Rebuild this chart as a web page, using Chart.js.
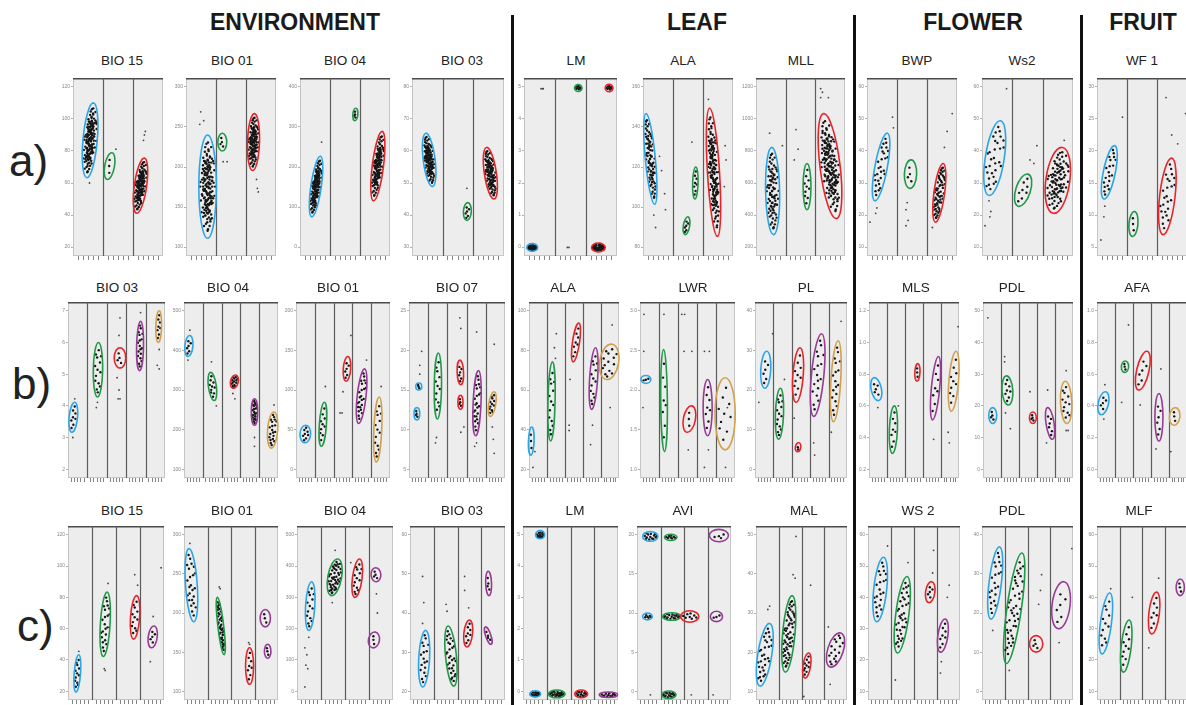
<!DOCTYPE html>
<html>
<head>
<meta charset="utf-8">
<script src="https://cdn.jsdelivr.net/npm/chart.js@4.4.1/dist/chart.umd.min.js"></script>
<style>
body { margin: 0; background: #fff; width: 1186px; height: 705px; overflow: hidden; position: relative; font-family: 'Liberation Sans', Arial, sans-serif; }
.grp { position: absolute; top: 11px; font-weight: bold; font-size: 23px; line-height: 1; color: #1a1a1a; transform: translateX(-50%); white-space: nowrap; }
.ttl { position: absolute; font-size: 13.5px; line-height: 1; color: #222; transform: translateX(-50%); white-space: nowrap; }
.row { position: absolute; font-size: 44px; line-height: 1; color: #222; }
.sep { position: absolute; top: 15px; bottom: 0; width: 2.5px; background: #111; }
canvas { position: absolute; }
</style>
</head>
<body>
<script>
const groupHeaders = ['ENVIRONMENT', 'LEAF', 'FLOWER', 'FRUIT'];
const rowLabels = ['a)', 'b)', 'c)'];
const titlesA = ['BIO 15', 'BIO 01', 'BIO 04', 'BIO 03', 'LM', 'ALA', 'MLL', 'BWP', 'Ws2', 'WF 1'];
const titlesB = ['BIO 03', 'BIO 04', 'BIO 01', 'BIO 07', 'ALA', 'LWR', 'PL', 'MLS', 'PDL', 'AFA'];
const titlesC = ['BIO 15', 'BIO 01', 'BIO 04', 'BIO 03', 'LM', 'AVI', 'MAL', 'WS 2', 'PDL', 'MLF'];
const groupsPerRow = [3, 5, 4];
const colours = ['#2aa6e8', '#1f9a48', '#e8242b', '#983b95', '#d3a04c'];

// y tick labels of every panel
const ticksA = [['20','40','60','80','100','120'], ['100','150','200','250','300'], ['0','100','200','300','400'], ['30','40','50','60','70','80'], ['0','1','2','3','4','5'],
  ['80','100','120','140','160'], ['200','400','600','800','1000','1200'], ['10','20','30','40','50','60'], ['10','20','30','40','50','60'], ['5','10','15','20','25','30']];
const ticksB = [['2','3','4','5','6','7'], ['100','200','300','400','500'], ['0','50','100','150','200'], ['5','10','15','20','25'], ['20','40','60','80','100'],
  ['1.0','1.5','2.0','2.5','3.0'], ['0','10','20','30','40'], ['0.2','0.4','0.6','0.8','1.0','1.2'], ['0','10','20','30','40','50'], ['0.0','0.2','0.4','0.6','0.8','1.0']];
const ticksC = [['20','40','60','80','100','120'], ['100','150','200','250','300'], ['0','100','200','300','400','500'], ['20','30','40','50','60'], ['0','1','2','3','4','5'],
  ['0','5','10','15','20'], ['10','20','30','40','50'], ['10','20','30','40','50','60'], ['0','10','20','30','40'], ['10','20','30','40','50','60']];

// ellipses: [group, xEnd1, yEnd1, xEnd2, yEnd2, minor/major ratio, dots]  (x in group units, y in % of range)
const aBio15 = [[0,0.68,86,0.46,44,0.19,140],[1,1.30,58,1.14,43,0.36,3],[2,2.38,55,2.12,24,0.22,120]];
const aBio01 = [[0,0.72,68,0.72,10,0.17,150],[1,1.21,69,1.21,59,0.5,4],[2,2.28,80,2.22,48,0.21,110]];
const aBio04 = [[0,0.68,56,0.39,22,0.17,130],[1,1.86,83,1.83,76,0.4,4],[2,2.74,70,2.45,31,0.16,120]];
const aBio03 = [[0,0.45,69,0.67,39,0.22,120],[1,1.82,30,1.79,20,0.44,6],[2,2.43,61,2.68,32,0.23,100]];
const aLm = [[0,0.09,4.8,0.44,4.8,0.7,30],[1,1.63,94.4,1.87,94.4,0.95,8],[2,2.62,94.4,2.87,94.4,0.95,8],[2,2.18,4.8,2.62,4.8,0.65,34]];
const aAla = [[0,0.10,80,0.39,29,0.11,80],[1,1.76,50,1.73,32,0.17,8],[1,1.50,22,1.40,12,0.35,6],[2,2.22,83,2.48,11,0.094,140]];
const aMll = [[0,0.53,61,0.59,12,0.16,80],[1,1.72,52,1.72,26,0.17,10],[2,2.28,80,2.71,21,0.19,160]];
const aBwp = [[0,0.68,69,0.26,31,0.18,28],[1,1.47,54,1.43,38,0.43,4],[2,2.54,52,2.28,19,0.18,60]];
const aWs2 = [[0,0.61,76,0.23,34,0.25,30],[1,1.52,46,1.19,28,0.44,8],[2,2.65,61,2.35,24,0.36,90]];
const aWf1 = [[0,0.59,62,0.23,32,0.22,20],[1,1.25,25,1.18,11,0.36,3],[2,2.49,55,2.20,12,0.2,25]];

const bBio03 = [[0,0.35,43,0.20,26,0.28,8],[1,1.57,77,1.52,46,0.17,14],[2,2.68,74,2.68,62.5,0.57,4],[3,3.74,89,3.69,61,0.14,18],[4,4.70,95,4.65,77,0.18,8]];
const bBio04 = [[0,0.31,81,0.21,69,0.38,6],[1,1.41,60,1.61,44,0.28,10],[2,2.76,58.5,2.60,51,0.57,14],[3,3.75,45,3.75,30,0.24,22],[4,4.79,37.5,4.64,17,0.28,20]];
const bBio01 = [[0,0.52,30,0.47,20,0.6,8],[1,1.51,43,1.35,18,0.16,10],[2,2.76,69,2.66,55,0.3,6],[3,3.65,62,3.33,31,0.16,24],[4,4.43,46,4.27,9,0.12,14]];
const bBio07 = [[0,0.51,54,0.51,50,0.85,3],[0,0.41,40,0.41,33,0.46,4],[1,1.53,71,1.48,33.5,0.11,12],[2,2.65,67,2.70,53,0.26,6],[2,2.68,47,2.68,39,0.36,4],[3,3.62,61,3.47,24,0.12,24],[4,4.44,49,4.23,35,0.28,12]];
const bAla = [[0,0.15,29,0.10,13,0.2,3],[1,1.30,66,1.20,21,0.09,14],[2,2.77,88,2.45,66,0.18,8],[3,3.70,74,3.48,39,0.13,14],[4,4.62,76,4.29,56,0.53,14]];
const bLwr = [[0,0.05,56,0.57,56,0.8,3],[1,1.24,73,1.29,15,0.065,8],[2,2.73,41,2.47,26,0.45,3],[3,3.56,56,3.56,24,0.16,8],[4,4.48,57,4.48,16,0.28,10]];
const bPl = [[0,0.64,72,0.53,51,0.27,6],[1,1.38,51,1.28,22,0.16,14],[2,2.45,74,2.23,43,0.19,10],[2,2.39,20,2.29,15,0.6,2],[3,3.62,82,3.19,35,0.15,18],[4,4.52,78,4.26,32,0.12,18]];
const bMls = [[0,0.27,57,0.54,44,0.44,5],[1,1.41,41,1.30,14,0.17,8],[2,2.72,65,2.66,55,0.29,3],[3,3.86,69,3.53,33,0.13,8],[4,4.84,72,4.57,38,0.16,10]];
const bPdl = [[0,0.54,40,0.54,31,0.5,4],[1,1.30,58,1.41,41.5,0.37,8],[2,2.77,37.5,2.77,31,0.6,4],[3,3.59,40,3.86,22,0.25,6],[4,4.57,55,4.67,31,0.27,12]];
const bAfa = [[0,0.49,49,0.22,36,0.44,5],[1,1.58,66.5,1.53,60,0.63,3],[2,2.79,72,2.30,50,0.31,6],[3,3.44,48,3.44,21,0.17,6],[4,4.37,40,4.26,30,0.59,3]];

const cBio15 = [[0,0.45,26,0.33,4.6,0.17,12],[1,1.63,62,1.47,25,0.15,22],[2,2.86,60,2.73,35,0.21,12],[3,3.59,42.5,3.47,30,0.41,5]];
const cBio01 = [[0,0.21,87,0.42,45,0.16,24],[1,1.42,59,1.71,26,0.1,40],[2,2.79,30,2.79,9,0.22,8],[3,3.46,52,3.46,42,0.59,3],[3,3.56,32,3.56,24,0.47,3]];
const cBio04 = [[0,0.61,68,0.49,40,0.19,14],[1,1.71,81,1.43,60,0.37,45],[2,2.61,81,2.41,59,0.25,14],[3,3.27,76,3.31,68,0.7,4],[3,3.27,39,3.14,30,0.69,3]];
const cBio03 = [[0,0.66,40,0.53,7.5,0.19,18],[1,1.60,42.5,1.85,8,0.18,30],[2,2.51,46,2.39,30.5,0.32,8],[3,3.29,74,3.33,60,0.24,4],[3,3.17,42,3.42,32,0.28,4]];
const cLm = [[0,0.53,95,0.91,95,0.9,12],[0,0.29,3.5,0.74,3.5,0.6,16],[1,1.07,3.5,1.77,3.5,0.47,24],[2,2.18,3.5,2.72,3.5,0.6,14],[3,3.21,3,3.98,3,0.3,12]];
const cAvi = [[0,0.24,94,0.89,94,0.63,14],[1,1.17,93.5,1.70,93.5,0.5,8],[3,3.08,94.5,3.89,94.5,0.65,4],[0,0.24,48,0.65,48,0.7,6],[1,1.09,48,1.86,48,0.42,16],[2,1.86,48,2.63,48,0.63,8],[3,3.12,48,3.64,48,0.85,3],[1,1.05,3,1.66,3,0.53,16]];
const cMal = [[0,0.60,44,0.17,8,0.22,30],[1,1.59,60,1.29,16,0.16,60],[2,2.32,27,2.15,12.6,0.3,10],[3,3.73,38.5,3.26,19,0.44,16]];
const cWs2 = [[0,0.68,82,0.38,45,0.2,22],[1,1.70,71,1.28,27,0.17,36],[2,2.77,68,2.64,56,0.44,5],[3,3.36,46.5,3.15,27.5,0.3,8]];
const cPdl = [[0,0.77,88,0.39,46.5,0.17,22],[1,1.76,84.5,1.07,21,0.13,44],[2,2.38,37,2.38,27.5,0.8,4],[3,3.60,68,3.35,41,0.38,6]];
const cMlf = [[0,0.57,61.5,0.22,26.5,0.18,12],[1,1.43,46,1.17,16,0.19,10],[2,2.65,62,2.43,38,0.25,8],[3,3.70,69.5,3.70,60,0.5,3]];

// single points lying outside the ellipses
const aBio15Out = [[0.55,41],[2.35,65],[2.38,68],[2.41,70],[1.43,60]];
const aBio01Out = [[0.49,81],[0.59,76],[0.46,74],[1.24,53],[1.37,53],[2.35,43],[2.38,38],[2.41,36]];
const aBio04Out = [[0.72,64]];
const aBio03Out = [[1.79,38]];
const aLmOut = [[0.55,94],[0.6,94],[0.62,94],[1.4,4.8],[1.45,4.8]];
const aAlaOut = [[0.55,56],[0.62,48],[0.72,35],[0.75,26],[0.36,23],[0.42,16],[1.63,64],[2.18,88],[2.74,62],[2.77,54],[2.71,39]];
const aMllOut = [[0.46,69],[0.89,62],[1.35,71],[1.29,54],[1.42,60],[2.18,94],[2.24,92],[2.18,89],[2.44,89]];
const aBwpOut = [[0.85,78],[0.88,72],[0.29,24],[0.1,19],[0.33,27],[1.34,30],[1.30,26],[1.37,20],[1.30,17],[2.84,80],[2.67,70],[2.58,61],[2.18,16]];
const aWs2Out = [[0.81,94],[0.23,31],[0.29,25],[0.10,17],[0.26,22],[1.81,62],[1.58,54],[1.71,52],[2.71,65]];
const aWf1Out = [[0.85,78],[0.26,28],[0.23,22],[0.13,9],[2.30,89],[2.49,68],[2.69,63],[2.95,80]];
const bBio03Out = [[0.35,45],[0.25,23],[1.46,40],[1.52,43],[2.68,91],[2.63,81],[2.53,57],[2.63,50],[2.58,45],[2.68,45],[3.74,94],[4.70,73],[4.60,64],[4.70,62]];
const bBio04Out = [[0.31,84],[0.21,67],[1.46,66],[1.72,41],[2.60,48],[2.71,45],[3.75,23],[3.75,18],[4.79,41.5]];
const bBio01Out = [[1.56,52],[2.92,81],[2.5,49],[2.34,37],[2.45,37],[3.75,67],[4.53,52]];
const bBio07Out = [[0.66,72],[0.56,64],[0.56,59],[1.43,23],[1.38,20],[2.65,91],[2.70,85],[2.86,29],[2.70,26],[3.52,83],[3.42,18],[3.52,20],[4.44,76],[4.34,29],[4.39,22],[4.44,14]];
const bAlaOut = [[0.22,6],[0.33,15],[1.47,68],[1.41,74],[1.52,82],[2.28,56],[2.23,30],[2.23,27],[3.53,30],[3.42,19],[4.62,87],[4.51,40]];
const bLwrOut = [[0.21,93],[1.26,93],[2.20,93],[2.35,93],[0.2,72],[2.32,72],[2.73,72],[3.39,72],[3.65,72],[0.16,40],[4.6,40],[3.39,6],[4.5,6],[2.54,16],[3.6,16]];
const bPlOut = [[0.96,82],[0.21,43],[1.60,56],[2.13,34],[3.24,13],[3.19,20],[4.68,89],[4.15,26]];
const bMlsOut = [[0.49,40],[1.63,41],[3.59,22],[4.95,86],[4.40,26],[4.46,20]];
const bPdlOut = [[0.27,91],[1.20,69],[1.20,66],[1.25,37],[1.52,28],[2.61,49],[3.59,50],[3.53,20],[4.62,61],[4.62,27],[4.73,27]];
const bAfaOut = [[0.44,53],[0.38,33.5],[1.75,87],[1.37,43],[2.40,41.5],[3.55,62],[3.28,16.5],[4.10,15]];
const cBio15Out = [[0.45,28],[1.67,67],[1.55,17],[1.51,18],[2.78,72],[2.9,66],[3.55,48],[3.88,76],[3.43,22]];
const cBio01Out = [[0.25,90],[1.5,65],[1.54,64],[2.79,32],[2.75,33]];
const cBio04Out = [[0.49,36],[0.33,30],[0.41,26],[0.37,20],[0.45,18],[0.33,7.5],[1.47,56],[1.59,86],[2.24,79],[3.31,61],[3.35,50]];
const cBio03Out = [[0.53,71],[0.58,56],[0.53,44],[1.52,55],[1.56,51],[2.30,71],[2.30,63],[2.47,53]];
const cLmOut = [];
const cAviOut = [[0.57,3],[2.31,3],[3.24,3]];
const cMalOut = [[0.52,52],[0.60,54],[1.72,70],[1.63,72],[1.76,94],[2.40,66],[2.1,2],[3.18,42],[3.26,9]];
const cWs2Out = [[0.85,88.5],[1.74,79],[1.19,11.5],[2.85,86],[2.81,73],[3.53,66],[3.45,59],[3.19,22],[3.15,15.5]];
const cPdlOut = [[0.47,40],[1.2,17],[2.62,72],[2.57,63],[2.49,55],[3.95,87],[3.39,33]];
const cMlfOut = [[0.61,64],[1.57,59],[2.74,70],[2.3,30]];

// spread of the individual plants inside an ellipse (u along major axis, v along minor)
const dotTemplate = [[0.00,0.10],[0.55,-0.20],[-0.50,0.25],[0.25,0.45],[-0.30,-0.45],[0.80,0.20],[-0.80,-0.10],[0.10,-0.60],[-0.15,0.70],[0.45,0.60],
  [-0.62,0.55],[0.68,-0.55],[-0.55,-0.70],[0.92,-0.05],[-0.92,0.15],[0.35,-0.30],[-0.25,0.15],[0.15,-0.15],[0.62,0.30],[-0.65,-0.30],
  [0.30,0.85],[-0.35,-0.85],[0.05,0.40],[0.45,0.05],[-0.45,-0.05],[0.75,-0.35],[-0.75,0.35],[0.20,-0.85],[-0.10,0.90],[0.85,0.45],
  [-0.85,-0.45],[0.35,-0.65],[-0.38,0.60],[0.10,0.20],[-0.05,-0.25],[0.70,0.05],[-0.70,0.10],[0.50,0.40],[-0.20,-0.60],[0.25,-0.40],
  [-0.55,0.45],[0.60,-0.45],[0.00,-0.95],[0.00,0.95],[0.95,0.00],[-0.95,-0.05],[0.40,0.20],[-0.40,-0.25],[0.20,0.65],[-0.15,0.40],
  [0.85,-0.25],[-0.85,0.30],[0.55,0.75],[-0.50,-0.80],[0.30,0.05],[-0.30,0.00],[0.65,0.55],[-0.60,-0.55],[0.12,-0.35],[-0.08,0.55]];
// how the template is reused on later passes: [scale, flip u, flip v]
const templatePasses = [[0.9, 1, 1], [0.55, -1, 1], [0.75, 1, -1], [0.35, -1, -1]];

const ellA = [aBio15, aBio01, aBio04, aBio03, aLm, aAla, aMll, aBwp, aWs2, aWf1];
const ellB = [bBio03, bBio04, bBio01, bBio07, bAla, bLwr, bPl, bMls, bPdl, bAfa];
const ellC = [cBio15, cBio01, cBio04, cBio03, cLm, cAvi, cMal, cWs2, cPdl, cMlf];
const outA = [aBio15Out, aBio01Out, aBio04Out, aBio03Out, aLmOut, aAlaOut, aMllOut, aBwpOut, aWs2Out, aWf1Out];
const outB = [bBio03Out, bBio04Out, bBio01Out, bBio07Out, bAlaOut, bLwrOut, bPlOut, bMlsOut, bPdlOut, bAfaOut];
const outC = [cBio15Out, cBio01Out, cBio04Out, cBio03Out, cLmOut, cAviOut, cMalOut, cWs2Out, cPdlOut, cMlfOut];

// page layout
const rowTop = [78, 302, 526];
const rowBottom = [256, 478, 700];
const boxesA = [[73,165],[186,278],[300,392],[412,506],[524,619],[643,735],[756,847],[867,959],[982,1075],[1097,1189]];
const boxesB = [[68,167],[184,280],[296,392],[409,507],[529,621],[640,737],[755,849],[869,961],[983,1075],[1097,1189]];
const boxesC = [[68,166],[184,280],[297,395],[410,507],[523,620],[637,733],[756,849],[868,962],[982,1075],[1097,1189]];
const titleX = [[122,232,345,462,576,683,801,917,1022,1142], [117,228,338,457,563,693,806,916,1012,1137], [122,232,345,462,575,683,804,918,1012,1139]];
const titleTop = [54, 281, 504];
const headerX = [295, 697, 973, 1143];
const sepX = [511, 853, 1080];
const rowLabelPos = [[9,139], [12,362], [17,604]];

function addDiv(cls, text, left, top) {
  const d = document.createElement('div');
  d.className = cls;
  d.textContent = text;
  d.style.left = left + 'px';
  d.style.top = top + 'px';
  document.body.appendChild(d);
}

groupHeaders.forEach((h, i) => addDiv('grp', h, headerX[i], 11));
rowLabels.forEach((r, i) => addDiv('row', r, rowLabelPos[i][0], rowLabelPos[i][1]));
sepX.forEach(x => {
  const d = document.createElement('div');
  d.className = 'sep';
  d.style.left = x + 'px';
  document.body.appendChild(d);
});

function makePanel(box, top, bottom, groups, ells, outs, tickLabels) {
  const padL = 24, padT = 4, padB = 9, padR = 2;
  const w = box[1] - box[0] + padL + padR;
  const h = bottom - top + padT + padB;
  const cv = document.createElement('canvas');
  cv.width = w; cv.height = h;
  cv.style.left = (box[0] - padL) + 'px';
  cv.style.top = (top - padT) + 'px';
  cv.style.width = w + 'px';
  cv.style.height = h + 'px';
  document.body.appendChild(cv);

  const ellipsePx = (chart, e) => {
    const xs = chart.scales.x, ys = chart.scales.y;
    const x1 = xs.getPixelForValue(e[1]), y1 = ys.getPixelForValue(e[2]);
    const x2 = xs.getPixelForValue(e[3]), y2 = ys.getPixelForValue(e[4]);
    const half = Math.hypot(x2 - x1, y2 - y1) / 2;
    return { cx: (x1 + x2) / 2, cy: (y1 + y2) / 2, half, minor: half * e[5], ang: Math.atan2(y2 - y1, x2 - x1) };
  };

  const panelPlugin = {
    id: 'panel',
    beforeDraw(chart) {
      const { ctx, chartArea: a, scales: { x } } = chart;
      ctx.save();
      ctx.fillStyle = '#ededed';
      ctx.fillRect(a.left, a.top, a.width, a.height);
      ctx.strokeStyle = '#c6c6c6';
      ctx.lineWidth = 1;
      ctx.strokeRect(a.left + 0.5, a.top + 0.5, a.width - 1, a.height - 1);
      ctx.strokeStyle = '#4a4a4a';
      ctx.lineWidth = 1.5;
      ctx.beginPath(); ctx.moveTo(a.left, a.top + 0.75); ctx.lineTo(a.right, a.top + 0.75); ctx.stroke();
      ctx.strokeStyle = '#5c5c5c';
      ctx.lineWidth = 1.2;
      for (let i = 1; i < groups; i++) {
        const px = Math.round(x.getPixelForValue(i)) + 0.5;
        ctx.beginPath(); ctx.moveTo(px, a.top); ctx.lineTo(px, a.bottom); ctx.stroke();
      }
      ctx.restore();
    },
    afterDatasetsDraw(chart) {
      const ctx = chart.ctx;
      ctx.save();
      ctx.lineWidth = 1.6;
      ells.forEach(e => {
        const p = ellipsePx(chart, e);
        ctx.strokeStyle = colours[e[0]];
        ctx.beginPath();
        ctx.ellipse(p.cx, p.cy, p.half, Math.max(p.minor, 1.5), p.ang, 0, Math.PI * 2);
        ctx.stroke();
      });
      ctx.restore();
    }
  };

  const xTicks = [];
  for (let g = 0; g < groups; g++) for (let k = 1; k <= 5; k++) xTicks.push({ value: g + k / 6 });

  const chart = new Chart(cv.getContext('2d'), {
    type: 'scatter',
    data: {
      datasets: [
        { data: outs.map(p => ({ x: p[0], y: p[1] })), pointRadius: 0.9, backgroundColor: '#444', borderWidth: 0 },
        { data: [], pointRadius: 1.2, backgroundColor: '#161616', borderWidth: 0 }
      ]
    },
    options: {
      responsive: false,
      animation: false,
      events: [],
      layout: { padding: { top: padT, right: padR, left: 0, bottom: 0 } },
      plugins: { legend: { display: false }, tooltip: { enabled: false } },
      scales: {
        x: {
          type: 'linear', min: 0, max: groups,
          afterFit(s) { s.height = padB; },
          afterBuildTicks(s) { s.ticks = xTicks.slice(); },
          ticks: { display: false },
          grid: { drawOnChartArea: false, tickLength: 4, color: '#666', lineWidth: 0.8 },
          border: { display: false }
        },
        y: {
          type: 'linear', min: 0, max: 100,
          afterFit(s) { s.width = padL; },
          afterBuildTicks(s) { s.ticks = tickLabels.map((t, i) => ({ value: 5 + 90 * i / (tickLabels.length - 1) })); },
          ticks: { font: { size: 5, family: 'Liberation Sans' }, color: '#888', padding: 1, callback: (v, i) => tickLabels[i] },
          grid: { drawOnChartArea: false, tickLength: 2, color: '#999', lineWidth: 0.8 },
          border: { display: false }
        }
      }
    },
    plugins: [panelPlugin]
  });

  // place each cluster's plants inside its ellipse, via the scales
  const xs = chart.scales.x, ys = chart.scales.y;
  const pts = [];
  ells.forEach(e => {
    const p = ellipsePx(chart, e);
    const ux = Math.cos(p.ang), uy = Math.sin(p.ang);
    for (let k = 0; k < e[6]; k++) {
      const t = dotTemplate[k % dotTemplate.length];
      const pass = templatePasses[Math.floor(k / dotTemplate.length) % templatePasses.length];
      const u = t[0] * pass[1] * p.half * pass[0];
      const v = t[1] * pass[2] * p.minor * pass[0];
      const px = p.cx + u * ux - v * uy;
      const py = p.cy + u * uy + v * ux;
      pts.push({ x: xs.getValueForPixel(px), y: ys.getValueForPixel(py) });
    }
  });
  chart.data.datasets[1].data = pts;
  chart.update('none');
}

const rows = [
  [titlesA, boxesA, ellA, outA, ticksA],
  [titlesB, boxesB, ellB, outB, ticksB],
  [titlesC, boxesC, ellC, outC, ticksC]
];
rows.forEach(([titles, boxes, ells, outs, ticks], r) => {
  titles.forEach((t, i) => {
    addDiv('ttl', t, titleX[r][i], titleTop[r]);
    makePanel(boxes[i], rowTop[r], rowBottom[r], groupsPerRow[r], ells[i], outs[i], ticks[i]);
  });
});
</script>
</body>
</html>
